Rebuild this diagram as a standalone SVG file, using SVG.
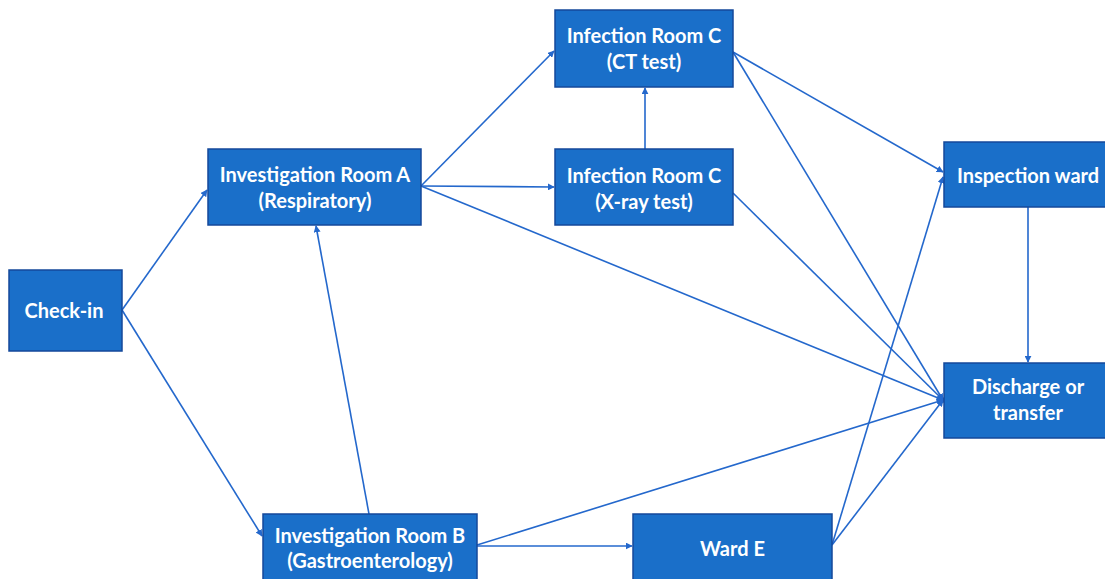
<svg xmlns="http://www.w3.org/2000/svg" width="1105" height="579" viewBox="0 0 1105 579">
<defs>
<marker id="ah" viewBox="0 0 10 10" refX="9" refY="5" markerWidth="7" markerHeight="7" markerUnits="userSpaceOnUse" orient="auto">
<path d="M0,0 L10,5 L0,10 z" fill="#2468CC"/>
</marker>
<style>
.box{fill:#1A6FC9;stroke:#14489A;stroke-width:1.5}
.t{font-family:Lato,"Open Sans",sans-serif;font-weight:bold;font-size:20px;fill:#fff;text-anchor:middle}
.c{stroke:#2468CC;stroke-width:1.6;fill:none;marker-end:url(#ah)}
</style>
</defs>
<rect width="1105" height="579" fill="#fff"/>
<g id="connectors">
<line class="c" x1="122" y1="310" x2="207" y2="190"/>
<line class="c" x1="122" y1="310" x2="262" y2="536"/>
<line class="c" x1="421" y1="186" x2="554" y2="51"/>
<line class="c" x1="421" y1="186" x2="554" y2="187"/>
<line class="c" x1="421" y1="186" x2="943" y2="400"/>
<line class="c" x1="645" y1="149" x2="645" y2="88"/>
<line class="c" x1="733" y1="52" x2="943" y2="172"/>
<line class="c" x1="733" y1="52" x2="943" y2="400"/>
<line class="c" x1="733" y1="193" x2="943" y2="400"/>
<line class="c" x1="1028" y1="207" x2="1028" y2="362"/>
<line class="c" x1="369" y1="514" x2="316" y2="226"/>
<line class="c" x1="477" y1="545" x2="943" y2="400"/>
<line class="c" x1="477" y1="546" x2="632" y2="546"/>
<line class="c" x1="832" y1="545" x2="943" y2="177"/>
<line class="c" x1="832" y1="545" x2="943" y2="400"/>
<circle cx="941" cy="400" r="3.5" fill="#2468CC"/>
</g>
<g id="checkin">
<rect class="box" x="9" y="270" width="113" height="81"/>
<text class="t" x="64" y="318">Check-in</text>
</g>
<g id="invA">
<rect class="box" x="208" y="149" width="213" height="76"/>
<text class="t" x="315" y="182">Investigation Room A</text>
<text class="t" x="315" y="208">(Respiratory)</text>
</g>
<g id="ct">
<rect class="box" x="555" y="10" width="178" height="77"/>
<text class="t" x="644" y="43">Infection Room C</text>
<text class="t" x="644" y="69">(CT test)</text>
</g>
<g id="xray">
<rect class="box" x="555" y="149" width="178" height="76"/>
<text class="t" x="644" y="183">Infection Room C</text>
<text class="t" x="644" y="209">(X-ray test)</text>
</g>
<g id="inspection">
<rect class="box" x="944" y="142" width="170" height="65"/>
<text class="t" x="1028" y="183">Inspection ward</text>
</g>
<g id="discharge">
<rect class="box" x="944" y="363" width="170" height="75"/>
<text class="t" x="1028" y="394">Discharge or</text>
<text class="t" x="1028" y="420">transfer</text>
</g>
<g id="invB">
<rect class="box" x="263" y="514" width="214" height="75"/>
<text class="t" x="370" y="543">Investigation Room B</text>
<text class="t" x="370" y="568">(Gastroenterology)</text>
</g>
<g id="wardE">
<rect class="box" x="633" y="514" width="199" height="75"/>
<text class="t" x="732.5" y="556">Ward E</text>
</g>
</svg>
